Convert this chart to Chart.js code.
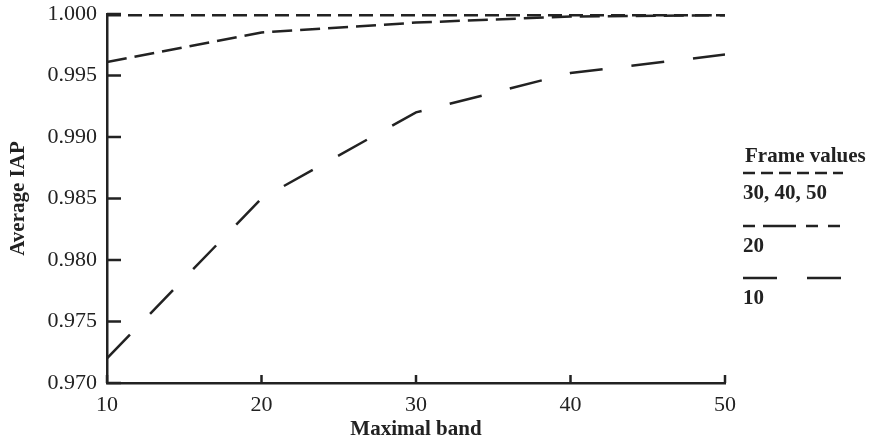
<!DOCTYPE html>
<html>
<head>
<meta charset="utf-8">
<script src="https://cdn.jsdelivr.net/npm/chart.js@4"></script>
<style>
  html, body { margin: 0; padding: 0; background: #fff; }
  #wrap { width: 876px; height: 446px; }
</style>
</head>
<body>
<div id="wrap"><canvas id="iapChart" width="876" height="446"></canvas></div>
<script>
// band values on the x axis
const bands = [10, 20, 30, 40, 50];
// average IAP per frame value
const frame305040 = [0.9999, 0.9999, 0.9999, 0.9999, 0.9999];
const frame20 = [0.9961, 0.9985, 0.9993, 0.9998, 0.9999];
const frame10 = [0.9720, 0.9850, 0.9920, 0.9952, 0.9967];
const yTicks = [0.970, 0.975, 0.980, 0.985, 0.990, 0.995, 1.000];
const xTicks = [10, 20, 30, 40, 50];

const ink = '#222';
const serif = '"Liberation Serif", "DejaVu Serif", serif';

function pts(vals) { return bands.map((b, i) => ({ x: b, y: vals[i] })); }

const series = [
  { label: '30, 40, 50', data: pts(frame305040), dash: [14, 7], legendDash: [12, 6] },
  { label: '20', data: pts(frame20), dash: [20, 8], legendDash: [12, 8, 33, 10, 12, 10, 12, 20] },
  { label: '10', data: pts(frame10), dash: [33, 29], legendDash: [34, 30] }
];

// inward tick marks + custom legend on the right
const decor = {
  id: 'decor',
  afterDraw(chart) {
    const ctx = chart.ctx;
    const xs = chart.scales.x, ys = chart.scales.y;
    const left = chart.chartArea.left, bottom = chart.chartArea.bottom;
    ctx.save();
    ctx.strokeStyle = ink;
    ctx.lineWidth = 2.5;
    yTicks.forEach(v => {
      const y = ys.getPixelForValue(v);
      ctx.beginPath(); ctx.moveTo(left, y); ctx.lineTo(left + 14, y); ctx.stroke();
    });
    xTicks.forEach(v => {
      const x = xs.getPixelForValue(v);
      ctx.beginPath(); ctx.moveTo(x, bottom); ctx.lineTo(x, bottom - 8); ctx.stroke();
    });

    ctx.fillStyle = ink;
    ctx.font = 'bold 21px ' + serif;
    ctx.textAlign = 'left';
    ctx.textBaseline = 'middle';
    ctx.fillText('Frame values', 745, 157);
    const rows = [173, 226, 278];
    series.forEach((s, i) => {
      ctx.setLineDash(s.legendDash);
      ctx.lineWidth = 2.5;
      ctx.beginPath(); ctx.moveTo(743, rows[i]); ctx.lineTo(843, rows[i]); ctx.stroke();
      ctx.setLineDash([]);
      ctx.fillText(s.label, 743, rows[i] + 21);
    });
    ctx.restore();
  }
};

new Chart(document.getElementById('iapChart'), {
  type: 'line',
  data: {
    datasets: series.map(s => ({
      label: s.label,
      data: s.data,
      borderColor: ink,
      borderWidth: 2.5,
      borderDash: s.dash,
      pointRadius: 0,
      fill: false,
      tension: 0
    }))
  },
  options: {
    responsive: false,
    animation: false,
    layout: { padding: { top: 14, right: 151, left: 0, bottom: 0 } },
    plugins: { legend: { display: false }, tooltip: { enabled: false } },
    scales: {
      x: {
        type: 'linear',
        min: 10, max: 50,
        afterFit(scale) { scale.height = 63; },
        grid: { display: false },
        border: { display: true, color: ink, width: 2.5 },
        ticks: { stepSize: 10, color: ink, padding: 1, font: { family: serif, size: 22 } },
        title: { display: true, text: 'Maximal band', color: ink, padding: { top: 3 }, font: { family: serif, size: 21, weight: 'bold' } }
      },
      y: {
        min: 0.970, max: 1.000,
        afterFit(scale) {
          scale.width = 107;
          scale.paddingTop = 0;
          scale.paddingBottom = 0;
        },
        grid: { display: false, drawTicks: false },
        border: { display: true, color: ink, width: 2.5 },
        ticks: {
          stepSize: 0.005, color: ink, padding: 10,
          font: { family: serif, size: 22 },
          callback: v => Number(v).toFixed(3)
        },
        title: { display: true, text: 'Average IAP', color: ink, padding: { bottom: 0, top: 6 }, font: { family: serif, size: 21, weight: 'bold' } }
      }
    }
  },
  plugins: [decor]
});
</script>
</body>
</html>
